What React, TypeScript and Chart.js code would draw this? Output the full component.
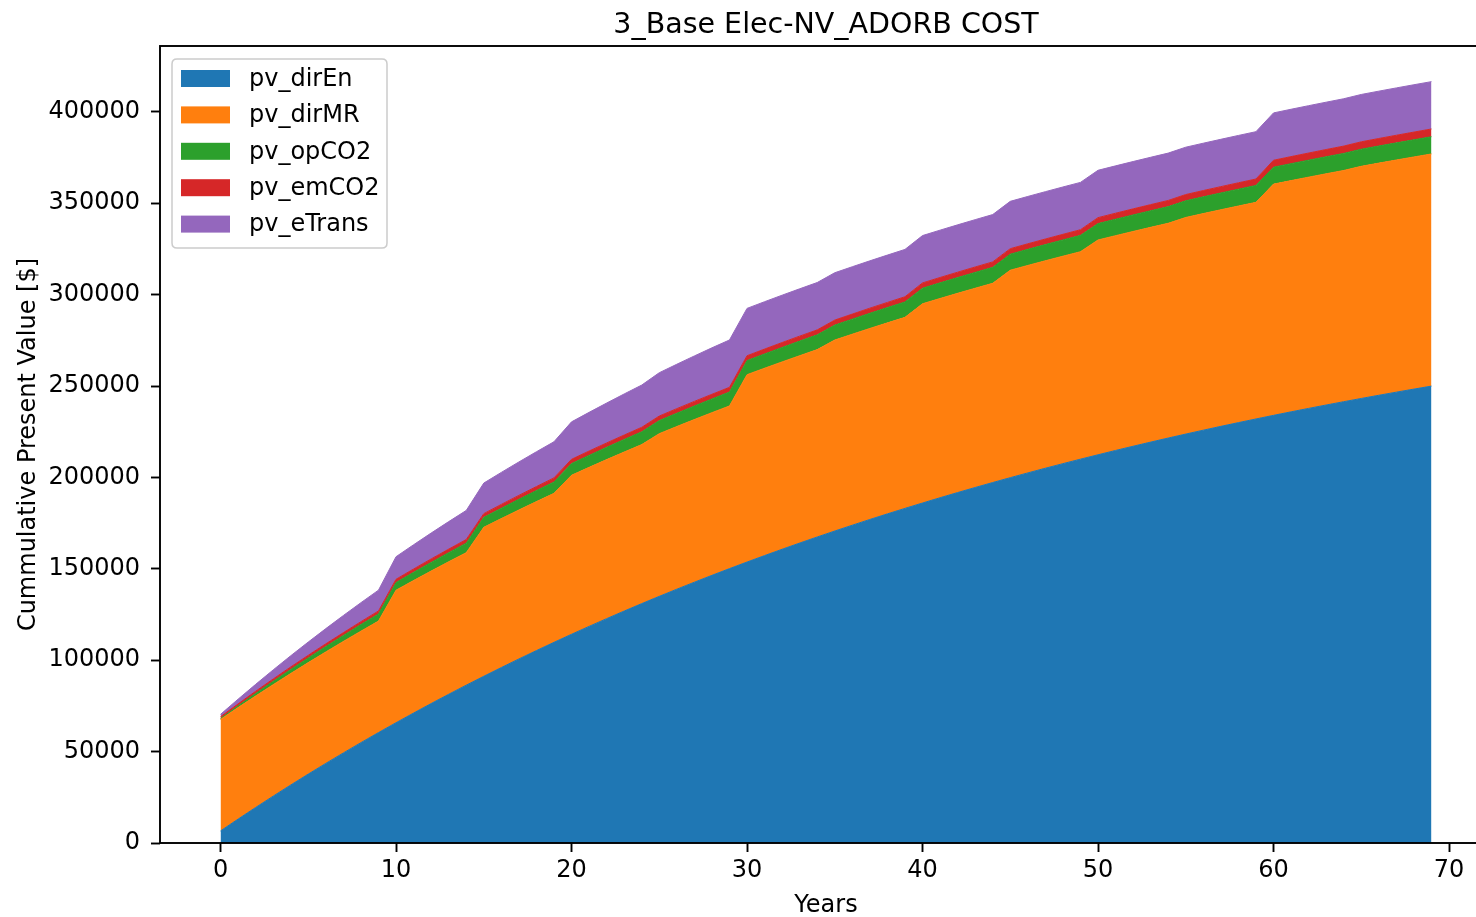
import React, { useEffect, useRef } from "react";
import { Chart, registerables } from "chart.js";

Chart.register(...registerables);

const TITLE = "3_Base Elec-NV_ADORB COST";
const X_LABEL = "Years";
const Y_LABEL = "Cummulative Present Value [$]";

const years = [
  0, 1, 2, 3, 4, 5, 6, 7, 8, 9,
  10, 11, 12, 13, 14, 15, 16, 17, 18, 19,
  20, 21, 22, 23, 24, 25, 26, 27, 28, 29,
  30, 31, 32, 33, 34, 35, 36, 37, 38, 39,
  40, 41, 42, 43, 44, 45, 46, 47, 48, 49,
  50, 51, 52, 53, 54, 55, 56, 57, 58, 59,
  60, 61, 62, 63, 64, 65, 66, 67, 68, 69,
];

const seriesNames = ["pv_dirEn", "pv_dirMR", "pv_opCO2", "pv_emCO2", "pv_eTrans"];

const pvDirEn = [
  6605, 13078, 19421, 25638, 31730, 37700, 43551, 49285, 54904, 60411,
  65808, 71097, 76280, 81359, 86337, 91215, 95996, 100681, 105272, 109771,
  114180, 118501, 122736, 126886, 130953, 134939, 138845, 142673, 146424, 150100,
  153703, 157234, 160694, 164085, 167408, 170665, 173856, 176984, 180049, 183053,
  185997, 188882, 191709, 194480, 197195, 199856, 202464, 205020, 207524, 209978,
  212383, 214740, 217050, 219314, 221532, 223706, 225836, 227924, 229970, 231975,
  233940, 235866, 237753, 239602, 241414, 243190, 244931, 246637, 248309, 249947,
];

const pvDirMR = [
  61000, 61000, 61000, 61000, 61000, 61000, 61000, 61000, 61000, 61000,
  72500, 72500, 72500, 72500, 72500, 81500, 81500, 81500, 81500, 81500,
  87000, 87000, 87000, 87000, 87000, 89000, 89000, 89000, 89000, 89000,
  102500, 102500, 102500, 102500, 102500, 104500, 104500, 104500, 104500, 104500,
  109000, 109000, 109000, 109000, 109000, 113500, 113500, 113500, 113500, 113500,
  117500, 117500, 117500, 117500, 117500, 118500, 118500, 118500, 118500, 118500,
  126500, 126500, 126500, 126500, 126500, 127000, 127000, 127000, 127000, 127000,
];

const pvOpCO2 = [
  484, 944, 1380, 1796, 2190, 2564, 2920, 3258, 3580, 3885,
  4174, 4449, 4711, 4959, 5195, 5420, 5633, 5835, 6027, 6210,
  6383, 6549, 6704, 6853, 6995, 7129, 7257, 7378, 7493, 7603,
  7706, 7805, 7899, 7988, 8072, 8152, 8229, 8302, 8370, 8436,
  8498, 8557, 8613, 8666, 8718, 8766, 8812, 8855, 8896, 8936,
  8972, 9008, 9042, 9073, 9104, 9132, 9160, 9186, 9211, 9234,
  9256, 9277, 9297, 9317, 9335, 9352, 9368, 9384, 9399, 9413,
];

const pvEmCO2 = [
  1000, 1100, 1200, 1300, 1400, 1450, 1500, 1550, 1600, 1650,
  1800, 1850, 1900, 1950, 2000, 2050, 2100, 2150, 2200, 2250,
  2350, 2380, 2410, 2440, 2470, 2500, 2520, 2540, 2560, 2580,
  2650, 2670, 2690, 2710, 2730, 2750, 2770, 2790, 2810, 2830,
  2900, 2920, 2940, 2960, 2980, 3000, 3020, 3040, 3060, 3080,
  3250, 3280, 3310, 3340, 3370, 3400, 3430, 3460, 3490, 3520,
  3800, 3850, 3900, 3950, 4000, 4050, 4100, 4150, 4200, 4250,
];

const pvETrans = [
  1300, 2561, 3783, 4970, 6123, 7237, 8320, 9373, 10391, 11379,
  12337, 13269, 14170, 15045, 15890, 16714, 17515, 18287, 19041, 19769,
  20475, 21160, 21827, 22473, 23097, 23703, 24293, 24865, 25419, 25900,
  25900, 25900, 25900, 25900, 25900, 25900, 25900, 25900, 25900, 25900,
  25900, 25900, 25900, 25900, 25900, 25900, 25900, 25900, 25900, 25900,
  25900, 25900, 25900, 25900, 25900, 25900, 25900, 25900, 25900, 25900,
  25900, 25900, 25900, 25900, 25900, 25900, 25900, 25900, 25900, 25900,
];

const xTicks = [0, 10, 20, 30, 40, 50, 60, 70];
const yTicks = [0, 50000, 100000, 150000, 200000, 250000, 300000, 350000, 400000];

const seriesValues = [pvDirEn, pvDirMR, pvOpCO2, pvEmCO2, pvETrans];
const seriesColors = ["#1f77b4", "#ff7f0e", "#2ca02c", "#d62728", "#9467bd"];

const FONT = '"DejaVu Sans", "Liberation Sans", sans-serif';

const decorPlugin = {
  id: "decor",
  afterDraw(chart: any) {
    const { ctx, chartArea: ca } = chart;
    ctx.save();
    // frame (spines)
    ctx.strokeStyle = "#000";
    ctx.lineWidth = 1.9;
    ctx.strokeRect(ca.left, ca.top, ca.right - ca.left, ca.bottom - ca.top);

    // title
    ctx.fillStyle = "#000";
    ctx.font = `28.5px ${FONT}`;
    ctx.textAlign = "center";
    ctx.textBaseline = "alphabetic";
    ctx.fillText(TITLE, (ca.left + ca.right) / 2, ca.top - 13);

    // legend
    const lx = ca.left + 12;
    const ly = ca.top + 13;
    const lw = 215;
    const lh = 189;
    const r = 5;
    ctx.beginPath();
    ctx.moveTo(lx + r, ly);
    ctx.lineTo(lx + lw - r, ly);
    ctx.quadraticCurveTo(lx + lw, ly, lx + lw, ly + r);
    ctx.lineTo(lx + lw, ly + lh - r);
    ctx.quadraticCurveTo(lx + lw, ly + lh, lx + lw - r, ly + lh);
    ctx.lineTo(lx + r, ly + lh);
    ctx.quadraticCurveTo(lx, ly + lh, lx, ly + lh - r);
    ctx.lineTo(lx, ly + r);
    ctx.quadraticCurveTo(lx, ly, lx + r, ly);
    ctx.closePath();
    ctx.fillStyle = "rgba(255,255,255,0.8)";
    ctx.fill();
    ctx.strokeStyle = "#cccccc";
    ctx.lineWidth = 1.5;
    ctx.stroke();

    ctx.font = `24px ${FONT}`;
    ctx.textAlign = "left";
    ctx.textBaseline = "middle";
    chart.data.datasets.forEach((ds: any, i: number) => {
      const cy = ly + 19.5 + i * 36.4;
      ctx.fillStyle = ds.backgroundColor;
      ctx.fillRect(lx + 9, cy - 8.5, 49, 17);
      ctx.fillStyle = "#000";
      ctx.fillText(ds.label, lx + 77, cy + 1);
    });
    ctx.restore();
  },
};

export default function App() {
  const canvasRef = useRef<HTMLCanvasElement | null>(null);

  useEffect(() => {
    const canvas = canvasRef.current;
    if (!canvas) return;
    const datasets = seriesNames.map((name, i) => ({
      label: name,
      data: years.map((x, j) => ({ x, y: seriesValues[i][j] })),
      backgroundColor: seriesColors[i],
      borderColor: seriesColors[i],
      borderWidth: 1,
      pointRadius: 0,
      pointHoverRadius: 0,
      tension: 0,
      fill: i === 0 ? "origin" : "-1",
    }));

    const chart = new Chart(canvas, {
      type: "line",
      data: { datasets },
      plugins: [decorPlugin],
      options: {
        animation: false,
        responsive: false,
        events: [],
        layout: { padding: { top: 46, right: 28, left: 0, bottom: 0 } },
        plugins: {
          legend: { display: false },
          title: { display: false },
          tooltip: { enabled: false },
        },
        scales: {
          x: {
            type: "linear",
            min: -3.45,
            max: 72.45,
            afterBuildTicks: (s: any) => {
              s.ticks = xTicks.map((v) => ({ value: v }));
            },
            afterFit: (s: any) => {
              s.height = 74;
            },
            grid: {
              drawOnChartArea: false,
              drawTicks: true,
              tickLength: 9,
              tickWidth: 1.9,
              tickColor: "#000",
            },
            border: { display: false },
            ticks: {
              font: { family: FONT, size: 24 },
              color: "#000",
              padding: 4,
              maxRotation: 0,
              autoSkip: false,
              callback: (v: any) => String(v),
            },
            title: {
              display: true,
              text: X_LABEL,
              font: { family: FONT, size: 24 },
              color: "#000",
              padding: { top: 0, bottom: -3 },
            },
          },
          y: {
            type: "linear",
            stacked: true,
            min: 0,
            max: 436000,
            afterBuildTicks: (s: any) => {
              s.ticks = yTicks.map((v) => ({ value: v }));
            },
            afterFit: (s: any) => {
              s.width = 160;
            },
            grid: {
              drawOnChartArea: false,
              drawTicks: true,
              tickLength: 9,
              tickWidth: 1.9,
              tickColor: "#000",
            },
            border: { display: false },
            ticks: {
              font: { family: FONT, size: 24 },
              color: "#000",
              padding: 11,
              autoSkip: false,
              callback: (v: any) => String(v),
            },
            title: {
              display: true,
              text: Y_LABEL,
              font: { family: FONT, size: 24 },
              color: "#000",
              padding: { top: 14, bottom: 0 },
            },
          },
        },
      },
    } as any);

    return () => chart.destroy();
  }, []);

  return (
    <div
      style={{
        position: "fixed",
        left: 0,
        top: 0,
        width: 1476,
        height: 917,
        overflow: "hidden",
        background: "#fff",
      }}
    >
      <canvas
        ref={canvasRef}
        width={1520}
        height={917}
        style={{ display: "block", width: 1520, height: 917 }}
      />
    </div>
  );
}
